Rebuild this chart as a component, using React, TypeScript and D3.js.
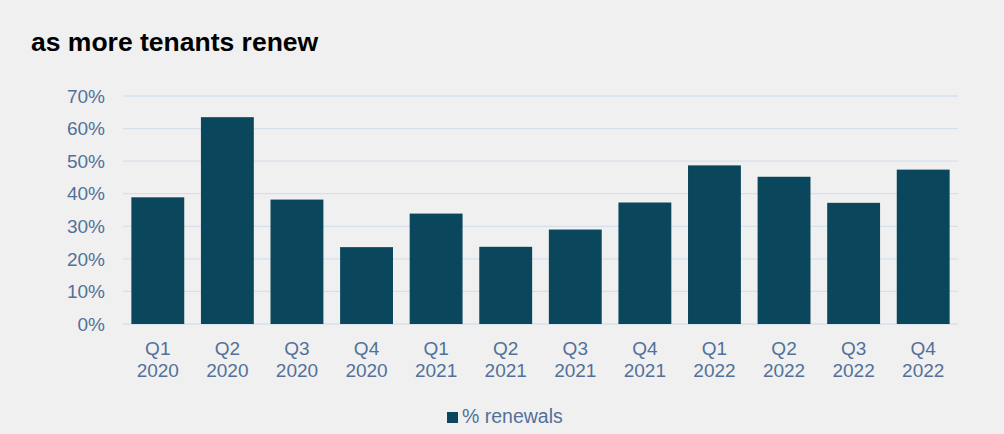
import * as d3 from "d3";
import { useEffect, useRef } from "react";

const quarters = ["Q1", "Q2", "Q3", "Q4", "Q1", "Q2", "Q3", "Q4", "Q1", "Q2", "Q3", "Q4"];
const years = ["2020", "2020", "2020", "2020", "2021", "2021", "2021", "2021", "2022", "2022", "2022", "2022"];
const renewals = [38.9, 63.5, 38.2, 23.6, 33.9, 23.7, 29.0, 37.3, 48.7, 45.2, 37.2, 47.4];
const yTicks = [0, 10, 20, 30, 40, 50, 60, 70];

const W = 1004;
const H = 434;
const BAR = "#0b475c";
const TEXT = "#52709a";
const GRID = "#d6e0ec";
const FONT = "'Liberation Sans', Arial, Helvetica, sans-serif";

const App = () => {
  const svgRef = useRef<SVGSVGElement | null>(null);

  useEffect(() => {
    document.body.style.margin = "0";
    document.body.style.background = "#f0f0f0";

    const margin = { top: 96, right: 46, bottom: 110, left: 123 };
    const innerW = W - margin.left - margin.right;
    const innerH = H - margin.top - margin.bottom;

    d3.select(svgRef.current).selectAll("*").remove();

    const root = d3.select(svgRef.current).attr("width", W).attr("height", H);

    root.append("rect").attr("width", W).attr("height", H).attr("fill", "#f0f0f0");

    // title
    root
      .append("text")
      .attr("x", 31)
      .attr("y", 51)
      .attr("font-family", FONT)
      .attr("font-weight", "bold")
      .attr("font-size", 26.5)
      .attr("fill", "#000")
      .text("as more tenants renew");

    const svg = root.append("g").attr("transform", `translate(${margin.left},${margin.top})`);

    const idx = renewals.map((_, i) => String(i));
    const x = d3.scaleBand().domain(idx).range([0, innerW]).paddingInner(0.24).paddingOuter(0.12);
    const y = d3.scaleLinear().domain([0, 70]).range([innerH, 0]);

    // gridlines
    svg
      .selectAll("line.grid")
      .data(yTicks)
      .join("line")
      .attr("class", "grid")
      .attr("x1", 0)
      .attr("x2", innerW)
      .attr("y1", (d) => y(d))
      .attr("y2", (d) => y(d))
      .attr("stroke", GRID)
      .attr("stroke-width", 1.3);

    // y labels
    svg
      .selectAll("text.ytick")
      .data(yTicks)
      .join("text")
      .attr("class", "ytick")
      .attr("x", -18)
      .attr("y", (d) => y(d))
      .attr("dy", "0.35em")
      .attr("text-anchor", "end")
      .attr("font-family", FONT)
      .attr("font-size", 19)
      .attr("fill", TEXT)
      .text((d) => `${d}%`);

    // bars
    svg
      .selectAll("rect.bar")
      .data(renewals)
      .join("rect")
      .attr("class", "bar")
      .attr("x", (_, i) => x(String(i)) || 0)
      .attr("y", (d) => y(d))
      .attr("width", x.bandwidth())
      .attr("height", (d) => innerH - y(d))
      .attr("fill", BAR);

    // x labels
    const xl = svg
      .selectAll("g.xtick")
      .data(renewals)
      .join("g")
      .attr("class", "xtick")
      .attr("transform", (_, i) => `translate(${(x(String(i)) || 0) + x.bandwidth() / 2},${innerH})`);
    xl.append("text")
      .attr("y", 31)
      .attr("text-anchor", "middle")
      .attr("font-family", FONT)
      .attr("font-size", 19)
      .attr("fill", TEXT)
      .text((_, i) => quarters[i]);
    xl.append("text")
      .attr("y", 53)
      .attr("text-anchor", "middle")
      .attr("font-family", FONT)
      .attr("font-size", 19)
      .attr("fill", TEXT)
      .text((_, i) => years[i]);

    // legend
    const lg = root.append("g").attr("transform", "translate(447,412)");
    lg.append("rect").attr("width", 11).attr("height", 11).attr("fill", BAR);
    lg.append("text")
      .attr("x", 15)
      .attr("y", 11)
      .attr("font-family", FONT)
      .attr("font-size", 19.5)
      .attr("fill", TEXT)
      .text("% renewals");
  }, []);

  return <svg ref={svgRef} style={{ display: "block" }} />;
};

export default App;
